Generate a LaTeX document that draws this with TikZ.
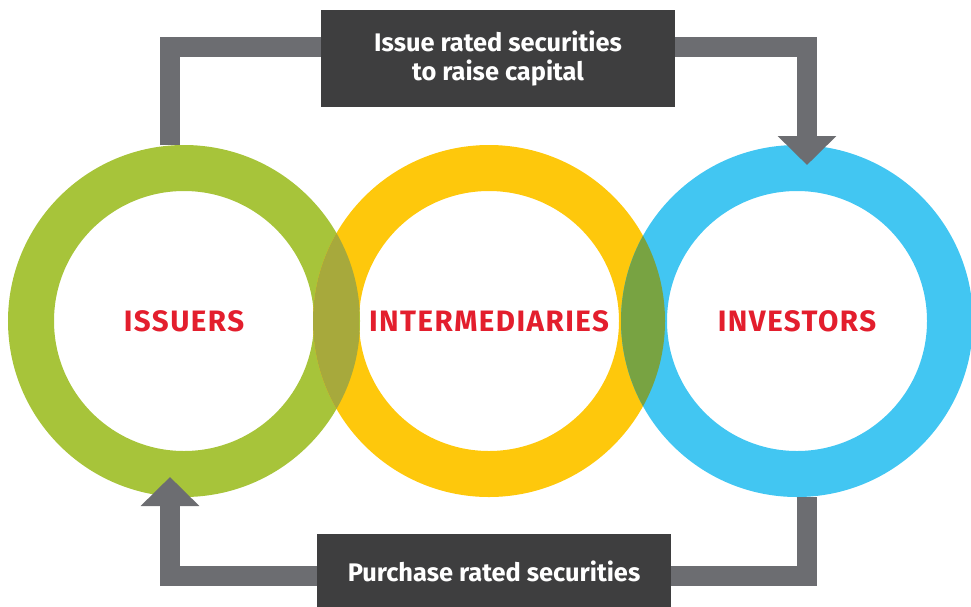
\documentclass[tikz,border=0pt]{standalone}
\usepackage{fontspec}
\setmainfont{Fira Sans}
\newfontfamily\ringfont{Fira Sans}[LetterSpace=5]
\usetikzlibrary{arrows.meta}
\definecolor{issgreen}{HTML}{A7C43A}
\definecolor{intyellow}{HTML}{FEC80C}
\definecolor{invblue}{HTML}{42C6F2}
\definecolor{lensolive}{HTML}{A7A93C}
\definecolor{lensgreen}{HTML}{78A342}
\definecolor{flowgray}{HTML}{6C6D71}
\definecolor{boxdark}{HTML}{3E3E3F}
\definecolor{labelred}{HTML}{E31E2D}
\tikzset{
  ring/.style={shape=circle,draw=#1,line width=46pt,minimum size=306pt,inner sep=0pt,
    text=labelred,font=\ringfont\bfseries\fontsize{29.5}{31}\selectfont},
  flow/.style={draw=flowgray,line width=20pt,-{Triangle[width=57pt,length=29pt]}},
  msgbox/.style={fill=boxdark,text=white,align=center,inner sep=0pt,
    font=\bfseries\fontsize{25.4}{29}\selectfont}
}
\begin{document}
\begin{tikzpicture}[x=1pt,y=-1pt]
\useasboundingbox (0,0) rectangle (971,606);

\node[ring=issgreen](ISS) at (184,321){ISSUERS};
\node[ring=intyellow](INT) at (489,321){INTERMEDIARIES};
\node[ring=invblue](INV) at (797,321){INVESTORS};

% overlaps of the rings
\begin{scope}
\clip (ISS.center) circle (176);
\draw[lensolive,line width=46pt] (INT.center) circle (153);
\end{scope}
\begin{scope}
\clip (INT.center) circle (176);
\draw[lensgreen,line width=46pt] (INV.center) circle (153);
\end{scope}

\coordinate (TL) at (170,47);
\coordinate (TR) at (807,47);
\coordinate (BR) at (807,576);
\coordinate (BL) at (170,576);
\draw[flow] ([xshift=-14pt]ISS.north) -- (TL) -- (TR) -- ([xshift=10pt,yshift=-20pt]INV.north);
\draw[flow] ([xshift=10pt]INV.south) -- (BR) -- (BL) -- ([xshift=-14pt,yshift=20pt]ISS.south);

\node[msgbox,minimum width=354pt,minimum height=97pt](issue) at (498,58.5){Issue rated securities\\to raise capital};
\node[msgbox,minimum width=354pt,minimum height=74pt](buy) at (494,571){Purchase rated securities};
\end{tikzpicture}
\end{document}
